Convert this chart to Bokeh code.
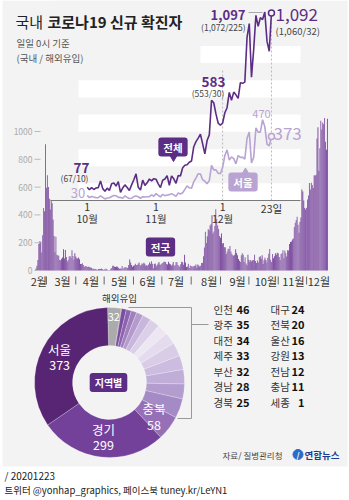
import math
from bokeh.plotting import figure
from bokeh.models import Range1d
from bokeh.core.properties import value
from bokeh.embed import file_html
from bokeh.resources import INLINE

FONT = "Noto Sans CJK KR"
DARK = "#5c2d85"
LIGHT = "#b9a3d3"
BG = "#f3f3f3"

# ---------------- data ----------------
# national daily new cases (0시 기준), 2020-02-18 .. 2020-12-23
first_day = 48  # day index (Jan 1 = 0) of Feb 18
nat_feb = [1, 15, 34, 75, 190, 210, 207, 130, 253, 449, 427, 909]
nat_mar = [595, 686, 600, 516, 438, 518, 483, 367, 248, 131, 242, 114, 110, 107, 76, 74, 84, 93, 152, 87,
           147, 98, 64, 76, 100, 104, 91, 146, 105, 78, 125]
nat_apr = [101, 89, 86, 94, 81, 47, 47, 53, 39, 27, 30, 32, 25, 27, 27, 22, 22, 18, 8, 13,
           9, 11, 8, 6, 10, 10, 10, 14, 9, 4]
nat_may = [9, 6, 13, 8, 3, 2, 4, 12, 18, 34, 35, 27, 26, 29, 27, 19, 13, 15, 13, 32,
           12, 20, 23, 25, 16, 19, 40, 79, 58, 39, 27]
nat_jun = [35, 38, 49, 39, 39, 51, 57, 38, 38, 50, 45, 56, 48, 34, 37, 34, 43, 59, 49, 67,
           48, 17, 46, 51, 28, 39, 51, 62, 42, 43]
nat_jul = [50, 54, 63, 63, 61, 46, 44, 63, 50, 45, 35, 44, 62, 33, 39, 61, 60, 39, 34, 26,
           45, 63, 59, 41, 113, 58, 25, 28, 48, 18, 36]
nat_aug = [31, 30, 23, 34, 33, 43, 20, 43, 36, 28, 34, 54, 56, 103, 166, 279, 197, 246, 297, 288,
           324, 332, 397, 266, 280, 320, 441, 371, 323, 299, 248]
nat_sep = [235, 267, 195, 198, 168, 167, 119, 136, 156, 155, 176, 136, 121, 109, 106, 113, 153, 126, 110, 82,
           70, 61, 110, 125, 114, 61, 95, 50, 38, 113]
nat_oct = [77, 63, 75, 64, 73, 75, 114, 69, 54, 72, 58, 98, 102, 84, 110, 47, 73, 91, 76, 58,
           91, 121, 155, 77, 61, 119, 88, 103, 125, 114, 127]
nat_nov = [124, 97, 75, 118, 125, 145, 89, 143, 126, 100, 146, 143, 191, 205, 208, 223, 230, 313, 343, 363,
           386, 330, 271, 349, 382, 583, 569, 504, 450, 438]
nat_dec = [451, 511, 540, 629, 583, 631, 615, 594, 686, 682, 689, 950, 1030, 718, 880, 1078, 1014, 1064, 1053, 1097,
           926, 869, 1092]
national = nat_feb + nat_mar + nat_apr + nat_may + nat_jun + nat_jul + nat_aug + nat_sep + nat_oct + nat_nov + nat_dec
nat_days = list(range(first_day, first_day + len(national)))

# inset: Oct 1 .. Dec 23
inset_first_day = 274
total_recent = national[inset_first_day - first_day:]
seoul_oct = [30, 17, 23, 20, 16, 17, 27, 18, 9, 15, 16, 23, 29, 28, 18, 18, 13, 27, 18, 12,
             13, 23, 26, 22, 13, 22, 20, 22, 22, 33, 25]
seoul_nov = [40, 30, 21, 36, 28, 32, 34, 40, 33, 24, 44, 38, 45, 65, 85, 74, 72, 109, 132, 156,
             154, 121, 112, 97, 116, 204, 178, 178, 159, 156]
seoul_dec = [193, 262, 295, 235, 254, 244, 213, 262, 251, 252, 241, 362, 399, 219, 251, 423, 398, 398, 470, 430,
             328, 318, 373]
seoul_recent = seoul_oct + seoul_nov + seoul_dec
recent_days = list(range(inset_first_day, inset_first_day + len(total_recent)))

bar_ticks = [0, 200, 400, 600, 800, 1000]
month_labels = ["2월", "3월", "4월", "5월", "6월", "7월", "8월", "9월", "10월", "11월", "12월"]
month_label_days = [52, 77, 107, 137, 167, 197, 232, 262, 292, 321, 348]
month_start_days = [60, 91, 121, 152, 182, 213, 244, 274, 305, 335]

inset_tick_days = [274, 305, 335]
inset_tick_day_text = ["1", "1", "1"]
inset_tick_month_text = ["10월", "11월", "12월"]
inset_band_lo = [0, 200, 400, 600, 800]

region_names = ["해외유입", "세종", "충남", "전남", "강원", "울산", "전북", "대구", "경북", "경남",
                "부산", "제주", "대전", "광주", "인천", "충북", "경기", "서울"]
region_values = [32, 1, 11, 12, 13, 16, 20, 24, 25, 28, 32, 33, 34, 35, 46, 58, 299, 373]
region_colors = ["#ababab", "#6b3a93", "#7a4da1", "#8c63ae", "#a07fbd", "#b59bcd", "#c8b6dc", "#dcd0e9",
                 "#ede7f3", "#e4dcee", "#d8cce7", "#ccbde0", "#c0add8", "#b39dcf", "#a58bc5", "#9570b6",
                 "#74419a", "#572574"]

table_left_names = ["인천", "광주", "대전", "제주", "부산", "경남", "경북"]
table_left_vals = ["46", "35", "34", "33", "32", "28", "25"]
table_right_names = ["대구", "전북", "울산", "강원", "전남", "충남", "세종"]
table_right_vals = ["24", "20", "16", "13", "12", "11", "1"]

# ---------------- figure ----------------
p = figure(width=349, height=500, x_range=Range1d(0, 349), y_range=Range1d(500, 0),
           x_axis_type=None, y_axis_type=None, toolbar_location=None, output_backend="svg",
           min_border=0, background_fill_color="white", border_fill_color="white")
p.outline_line_color = None
p.grid.visible = False

# pixel mapping of sub-charts through extra ranges
p.extra_x_ranges = {
    "bx": Range1d(59 - 45 / 0.946, 59 + 304 / 0.946),          # bar chart: days
    "lx": Range1d(274 - 86.7 / 2.22, 274 + (349 - 86.7) / 2.22),  # inset: days
    "px": Range1d(-109, 240),                                     # pie
}
p.extra_y_ranges = {
    "by": Range1d(-230 / 0.139, 270 / 0.139),
    "ly": Range1d(-300 / 0.1718, 200 / 0.1718),
    "py": Range1d(-118, 382),
}


def _aslist(v):
    return list(v) if isinstance(v, (list, tuple)) else [v]


def txt(x, y, s, size, color, align="left", bold=False, **kw):
    xs, ys, ss = _aslist(x), _aslist(y), _aslist(s)
    n = max(len(xs), len(ys), len(ss))
    xs = xs * n if len(xs) == 1 else xs
    ys = ys * n if len(ys) == 1 else ys
    ss = ss * n if len(ss) == 1 else ss
    p.text(x=xs, y=ys, text=ss,
           text_font=value(FONT), text_font_size=f"{size}px", text_color=color,
           text_align=align, text_baseline="middle",
           text_font_style="bold" if bold else "normal", **kw)


def box(x, y, s, fill, size=10.5):
    p.text(x=[x], y=[y], text=[s], text_font=value(FONT), text_font_size=f"{size}px",
           text_color="white", text_align="center", text_baseline="middle", text_font_style="bold",
           background_fill_color=fill, padding=(5, 2), border_radius=3)


# background panel
p.quad(left=2, right=347, top=0, bottom=466, color=BG, line_color=None)

# ---- national bar chart ----
bar_colors = ["#7b4b9e" if ((d - first_day) // 7) % 2 == 0 else "#8a5eaa" for d in nat_days]
p.vbar(x=nat_days, top=national, bottom=0, width=1.0, color=bar_colors, line_color=None,
       x_range_name="bx", y_range_name="by")
txt(32, bar_ticks, [str(t) for t in bar_ticks], 8.5, "#aaaaaa", align="right", y_range_name="by")
p.segment(x0=[34] * len(bar_ticks), x1=[40] * len(bar_ticks), y0=bar_ticks, y1=bar_ticks,
          line_color="#bbbbbb", line_width=1, y_range_name="by")
txt(month_label_days, 280, month_labels, 11, "#333333", align="center", x_range_name="bx")
p.segment(x0=month_start_days, x1=month_start_days, y0=[276] * len(month_start_days),
          y1=[284] * len(month_start_days), line_color="#666666", line_width=1, x_range_name="bx")
box(160, 246.5, "전국", DARK)

# ---- inset line chart ----
p.quad(left=50, right=298, top=0, bottom=200, color=BG, line_color=None)
p.quad(left=[78, 78, 78, 78, 200], right=[300] * 5, bottom=inset_band_lo,
       top=[b + 100 for b in inset_band_lo], color="white", line_color=None, y_range_name="ly")
p.segment(x0=[335, 357], x1=[335, 357], y0=[0, 0], y1=[760, 1085], line_color="#bbbbbb",
          line_dash="2 2", line_width=1, x_range_name="lx", y_range_name="ly")
p.segment(x0=[50], x1=[300], y0=[200], y1=[200], line_color="#7a7a7a", line_width=1)
txt(inset_tick_days, 206, inset_tick_day_text, 10.5, "#333333", align="center", x_range_name="lx")
txt(inset_tick_days, 218, inset_tick_month_text, 10.5, "#333333", align="center", x_range_name="lx")
txt(recent_days[-1], 208, "23일", 10.5, "#333333", align="center", x_range_name="lx")

p.line(recent_days, seoul_recent, line_color=LIGHT, line_width=1.6, x_range_name="lx", y_range_name="ly")
p.line(recent_days, total_recent, line_color=DARK, line_width=1.6, x_range_name="lx", y_range_name="ly")
p.scatter([recent_days[-1]] * 2, [total_recent[-1], seoul_recent[-1]], size=6,
          fill_color=BG, line_color=[DARK, LIGHT], line_width=1.5,
          x_range_name="lx", y_range_name="ly")

# annotations
txt(81, 167, "77", 13.5, DARK, align="center", bold=True)
txt(74, 177.5, "(67/10)", 8.5, "#444444", align="center")
txt(77.5, 192, "30", 13, LIGHT, align="center")
txt(213, 81, "583", 13.5, DARK, align="center", bold=True)
txt(207.5, 92.5, "(553/30)", 8.5, "#444444", align="center")
txt(245, 14, "1,097", 13, DARK, align="right", bold=True)
txt(245, 26, "(1,072/225)", 8.5, "#444444", align="right")
p.segment(x0=[248], x1=[262], y0=[12], y1=[12], line_color="#aaaaaa", line_width=1)
txt(275, 14, "1,092", 17, DARK, align="left")
txt(275, 30, "(1,060/32)", 9.5, "#444444", align="left")
txt(261, 113, "470", 11, LIGHT, align="center")
txt(273, 133, "373", 17, LIGHT, align="left")

box(172.5, 146.5, "전체", DARK)
p.scatter([173], [157], marker="inverted_triangle", size=7, color=DARK)
box(242.5, 181.5, "서울", LIGHT)
p.scatter([245], [171.5], marker="triangle", size=7, color=LIGHT)

# ---- title ----
txt(15, 21, "국내", 15, "#222222")
txt(47, 21, "코로나19 신규 확진자", 15, "#222222", bold=True)
txt(16, 42, "일일 0시 기준", 9.5, "#555555")
txt(16, 57, "(국내 / 해외유입)", 9.5, "#555555")

# ---- donut ----
total = sum(region_values)
start = 91.5
starts, ends, cum = [], [], 0
for v in region_values:
    starts.append(math.radians(start - cum * 360 / total))
    cum += v
    ends.append(math.radians(start - cum * 360 / total))
p.annular_wedge(x=0, y=0, inner_radius=37, outer_radius=75, start_angle=starts, end_angle=ends,
                direction="clock", fill_color=region_colors, line_color="white", line_width=0.4,
                line_alpha=0.6, x_range_name="px", y_range_name="py")
mids = [(a + b) / 2 for a, b in zip(starts, ends)]
for name, val, r in [("서울", 373, 56), ("경기", 299, 55), ("충북", 58, 56)]:
    i = region_names.index(name)
    cx, cy = r * math.cos(mids[i]), r * math.sin(mids[i])
    txt(cx, cy + 8, name, 12.5, "white", align="center", x_range_name="px", y_range_name="py")
    txt(cx, cy - 8, str(val), 12.5, "white", align="center", x_range_name="px", y_range_name="py")
gi = region_names.index("해외유입")
txt(66 * math.cos(mids[gi]), 66 * math.sin(mids[gi]), str(region_values[gi]), 11, "white",
    align="center", x_range_name="px", y_range_name="py")
txt(119, 297, "해외유입", 9.5, "#333333", align="center")
box(108, 382, "지역별", DARK, size=10)

# bracket
p.segment(x0=[128, 191, 177, 191], x1=[191, 191, 191, 208], y0=[307, 307, 418, 324],
          y1=[307, 418, 418, 324], line_color="#999999", line_width=1)

# table
rows_y = [308.5 + 15.5 * i for i in range(7)]
txt(213, rows_y, table_left_names, 10.5, "#333333")
txt(249, rows_y, table_left_vals, 11, "#111111", align="right", bold=True)
txt(270, rows_y, table_right_names, 10.5, "#333333")
txt(304, rows_y, table_right_vals, 11, "#111111", align="right", bold=True)

# source + logo
txt(222, 454, "자료/ 질병관리청", 8.5, "#444444")
p.scatter([297.5], [454], size=10, color="#2b6cc8")
txt(297.5, 454, "/", 8, "white", align="center", bold=True)
txt(304, 454, "연합뉴스", 9.5, "#1b3c8c", bold=True)

# footer
txt(4, 475, "/ 20201223", 10, "#222222")
txt(4, 489, "트위터 @yonhap_graphics, 페이스북 tuney.kr/LeYN1", 9.5, "#222222")

open("out.html", "w").write(file_html(p, INLINE))
